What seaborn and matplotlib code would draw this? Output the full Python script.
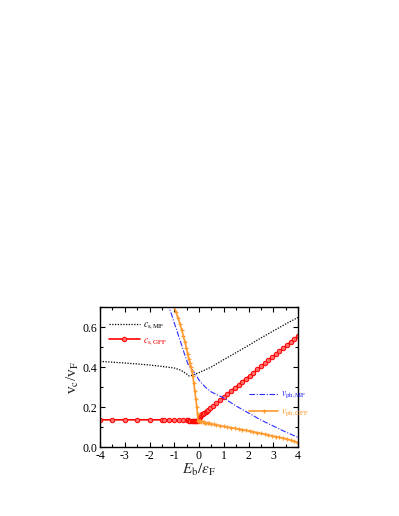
import matplotlib
matplotlib.use("Agg")
import matplotlib.pyplot as plt
import seaborn as sns
from matplotlib.ticker import MultipleLocator

# c_s,MF (black dotted)
cs_mf_x = [-4, -3.5, -3, -2.5, -2, -1.5, -1, -0.75, -0.5, -0.4, -0.3, -0.15, 0,
           0.5, 1, 1.5, 2, 2.5, 3, 3.5, 4]
cs_mf_y = [0.428, 0.424, 0.42, 0.415, 0.41, 0.403, 0.395, 0.385, 0.365, 0.355, 0.358,
           0.365, 0.372, 0.40, 0.437, 0.472, 0.508, 0.545, 0.58, 0.615, 0.648]

# c_s,GPF (red, circles)
cs_gpf_x = [-4, -3.5, -3, -2.5, -2, -1.5, -1.4, -1.2, -1.0, -0.8, -0.65, -0.5, -0.45,
            -0.4, -0.35, -0.3, -0.25, -0.2, -0.16, -0.12, -0.08, -0.05, -0.02, 0.0,
            0.03, 0.06, 0.1, 0.14, 0.18, 0.22, 0.27, 0.32, 0.38, 0.45, 0.55, 0.7, 0.85,
            1.0, 1.15, 1.3, 1.45, 1.6, 1.75, 1.9, 2.05, 2.2, 2.35, 2.5, 2.65, 2.8, 2.95,
            3.1, 3.25, 3.4, 3.55, 3.7, 3.85, 4.0]
cs_gpf_y = [0.136, 0.136, 0.136, 0.136, 0.136, 0.136, 0.136, 0.136, 0.136, 0.135, 0.134,
            0.133, 0.133, 0.132, 0.132, 0.131, 0.131, 0.130, 0.130, 0.130, 0.130, 0.130,
            0.133, 0.142, 0.148, 0.153, 0.158, 0.163, 0.167, 0.171, 0.176, 0.181, 0.187,
            0.194, 0.204, 0.219, 0.235, 0.25, 0.265, 0.281, 0.296, 0.311, 0.327, 0.342,
            0.357, 0.372, 0.388, 0.403, 0.418, 0.433, 0.449, 0.464, 0.479, 0.494, 0.509,
            0.525, 0.540, 0.555]

# v_ph,MF (blue dash-dot)
vph_mf_x = [-1.27, -1.1, -1.0, -0.9, -0.8, -0.7, -0.6, -0.5, -0.45, -0.3, -0.15, 0,
            0.25, 0.5, 0.75, 1, 1.5, 2, 2.5, 3, 3.5, 4]
vph_mf_y = [0.72, 0.66, 0.62, 0.585, 0.545, 0.51, 0.47, 0.435, 0.415, 0.39, 0.365, 0.335,
            0.30, 0.275, 0.26, 0.245, 0.205, 0.17, 0.135, 0.105, 0.075, 0.048]

# v_ph,GPF (orange, crosses)
vph_gpf_x = [-1.05, -0.93, -0.85, -0.77, -0.7, -0.63, -0.57, -0.51, -0.46, -0.41, -0.37,
             -0.33, -0.29, -0.25, -0.21, -0.17, -0.13, -0.09, -0.06, -0.04, 0.0, 0.03,
             0.06, 0.1, 0.15, 0.2, 0.25, 0.3, 0.35, 0.42, 0.5, 0.6, 0.7, 0.85, 1.0, 1.15,
             1.3, 1.45, 1.6, 1.75, 1.9, 2.05, 2.2, 2.35, 2.5, 2.65, 2.8, 2.95, 3.1, 3.25,
             3.4, 3.55, 3.7, 3.85, 4.0]
vph_gpf_y = [0.715, 0.675, 0.645, 0.615, 0.585, 0.555, 0.525, 0.495, 0.465, 0.44, 0.42,
             0.40, 0.38, 0.355, 0.32, 0.28, 0.24, 0.20, 0.165, 0.132, 0.13, 0.129, 0.128,
             0.127, 0.125, 0.124, 0.122, 0.121, 0.12, 0.118, 0.116, 0.113, 0.111, 0.107,
             0.103, 0.10, 0.097, 0.093, 0.09, 0.087, 0.083, 0.08, 0.076, 0.072, 0.068,
             0.064, 0.06, 0.056, 0.052, 0.048, 0.044, 0.04, 0.034, 0.028, 0.022]

RED = "#ff0000"
ORANGE = "#ff9a2e"
BLUE = "#2b2bff"

sns.set_style("ticks")
plt.rcParams["font.family"] = ["Liberation Serif", "DejaVu Serif"]
plt.rcParams["mathtext.fontset"] = "stix"
plt.rcParams["axes.unicode_minus"] = False

fig = plt.figure(figsize=(3.99, 5.16), dpi=100)
ax = fig.add_axes([100 / 399, 1 - 447 / 516, 198 / 399, 140 / 516])

sns.lineplot(x=cs_mf_x, y=cs_mf_y, ax=ax, color="black", linestyle=(0, (1, 1.2)),
             linewidth=0.9, sort=False, estimator=None, label=r"$c_{\rm s,MF}$")
sns.lineplot(x=cs_gpf_x, y=cs_gpf_y, ax=ax, color=RED, linewidth=1.2, marker="o",
             markersize=3.2, markerfacecolor="#ff7070", markeredgecolor=RED,
             markeredgewidth=0.7, sort=False, estimator=None, label=r"$c_{\rm s,GPF}$")
sns.lineplot(x=vph_mf_x, y=vph_mf_y, ax=ax, color=BLUE, linestyle=(0, (5, 1.5, 1, 1.5)),
             linewidth=0.8, sort=False, estimator=None, label=r"$v_{\rm ph,MF}$")
sns.lineplot(x=vph_gpf_x, y=vph_gpf_y, ax=ax, color=ORANGE, linewidth=1.2, marker="+",
             markersize=3.5, markeredgewidth=0.9, markeredgecolor=ORANGE,
             sort=False, estimator=None, label=r"$v_{\rm ph,GPF}$")

ax.set_xlim(-4, 4)
ax.set_ylim(0, 0.7)
ax.xaxis.set_major_locator(MultipleLocator(1))
ax.xaxis.set_minor_locator(MultipleLocator(0.5))
ax.yaxis.set_major_locator(MultipleLocator(0.2))
ax.yaxis.set_minor_locator(MultipleLocator(0.1))
ax.yaxis.set_major_formatter(plt.FuncFormatter(lambda v, p: f"{v:.1f}"))
ax.tick_params(which="both", direction="in", top=True, right=True, width=0.8,
               labelsize=8.5, pad=2, colors="black")
ax.tick_params(which="major", length=3.5)
ax.tick_params(which="minor", length=2)
for s in ax.spines.values():
    s.set_linewidth(1.0)
    s.set_color("black")

ax.set_xlabel(r"$E_{\rm b}/\varepsilon_{\rm F}$", fontsize=11, labelpad=0)
ax.set_ylabel(r"v$_{\rm c}$/v$_{\rm F}$", fontsize=11, labelpad=1)

handles, labels = ax.get_legend_handles_labels()
leg1 = ax.legend(handles[:2], labels[:2], loc="upper left", bbox_to_anchor=(0.0, 0.97),
                 frameon=False, fontsize=7, handlelength=3.2, handletextpad=0.3,
                 labelspacing=0.45, labelcolor="linecolor")
ax.add_artist(leg1)
ax.legend(handles[2:], labels[2:], loc="upper left", bbox_to_anchor=(0.71, 0.47),
          frameon=False, fontsize=7, handlelength=3.0, handletextpad=0.3,
          labelspacing=0.6, labelcolor="linecolor")

fig.savefig("out.png", dpi=100)
